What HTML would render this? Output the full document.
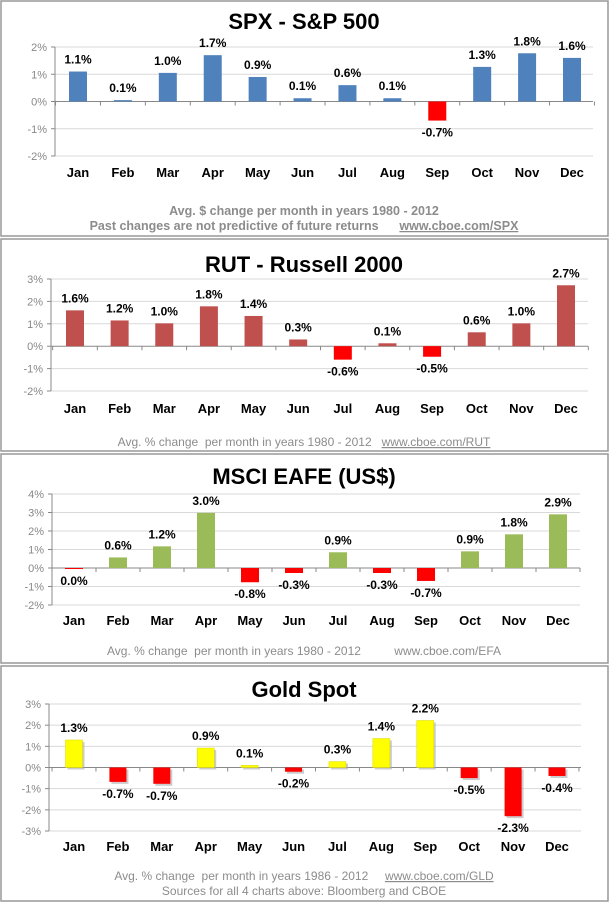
<!DOCTYPE html>
<html><head><meta charset="utf-8"><style>
html,body{margin:0;padding:0;background:#fff;width:609px;height:903px;overflow:hidden}
svg{display:block;font-family:"Liberation Sans",Arial,sans-serif}
</style></head><body>
<svg id="s" width="609" height="903" viewBox="0 0 609 903" xmlns="http://www.w3.org/2000/svg"></svg>
<script>
const M=["Jan","Feb","Mar","Apr","May","Jun","Jul","Aug","Sep","Oct","Nov","Dec"];
const P=[
{top:0,bot:236,title:"SPX - S&P 500",ty:29,l:55,r:593,maxv:2,minv:-2,ymax:47,ymin:156,c0:78,c1:572,bw:18,lab:172,fb:1,
 vals:[1.1,0.05,1.05,1.7,0.9,0.12,0.6,0.12,-0.7,1.27,1.77,1.6],txt:["1.1%","0.1%","1.0%","1.7%","0.9%","0.1%","0.6%","0.1%","-0.7%","1.3%","1.8%","1.6%"],
 col:"#4f81bd",foot:[[211,"Avg. $ change per month in years 1980 - 2012",null],[226,"Past changes are not predictive of future returns      ","www.cboe.com/SPX"]]},
{top:238,bot:451,title:"RUT - Russell 2000",ty:272,l:51,r:588,maxv:3,minv:-2,ymax:279,ymin:391,c0:75,c1:566,bw:18,lab:408,
 vals:[1.6,1.15,1.02,1.78,1.35,0.3,-0.6,0.13,-0.47,0.62,1.02,2.72],txt:["1.6%","1.2%","1.0%","1.8%","1.4%","0.3%","-0.6%","0.1%","-0.5%","0.6%","1.0%","2.7%"],
 col:"#c0504d",foot:[[442,"Avg. % change  per month in years 1980 - 2012   ","www.cboe.com/RUT"]]},
{top:453,bot:663,title:"MSCI EAFE (US$)",ty:484,l:52,r:580,maxv:4,minv:-2,ymax:494,ymin:605,c0:74,c1:558,bw:18,lab:620,
 vals:[-0.05,0.57,1.17,2.98,-0.77,-0.27,0.85,-0.27,-0.7,0.9,1.82,2.9],txt:["0.0%","0.6%","1.2%","3.0%","-0.8%","-0.3%","0.9%","-0.3%","-0.7%","0.9%","1.8%","2.9%"],
 col:"#9bbb59",foot:[[651,"Avg. % change  per month in years 1980 - 2012          www.cboe.com/EFA",null]]},
{top:665,bot:901,title:"Gold Spot",ty:697,l:49,r:581,maxv:3,minv:-3,ymax:704,ymin:831,c0:74,c1:557,bw:17,lab:846,gold:1,
 vals:[1.3,-0.68,-0.77,0.92,0.1,-0.2,0.28,1.37,2.22,-0.5,-2.3,-0.4],txt:["1.3%","-0.7%","-0.7%","0.9%","0.1%","-0.2%","0.3%","1.4%","2.2%","-0.5%","-2.3%","-0.4%"],
 col:"#ffff00",foot:[[876,"Avg. % change  per month in years 1986 - 2012     ","www.cboe.com/GLD"],[891,"Sources for all 4 charts above: Bloomberg and CBOE",null]]}
];
let h='<rect x="0" y="0" width="609" height="903" fill="#fff"/>';
for(const p of P){
 h+=`<rect x="1" y="${p.top+1}" width="607" height="${p.bot-p.top-1}" fill="none" stroke="#999" stroke-width="1.5"/>`;
 h+=`<text x="304" y="${p.ty}" text-anchor="middle" font-size="22" font-weight="bold" fill="#000">${p.title.replace('&','&amp;')}</text>`;
 const step=(p.ymin-p.ymax)/(p.maxv-p.minv);
 const Y=v=>p.ymax+(p.maxv-v)*step;
 for(let v=p.maxv;v>=p.minv;v--){
  const y=Y(v);
  if(v!==0)h+=`<line x1="${p.l}" x2="${p.r}" y1="${y}" y2="${y}" stroke="#d9d9d9"/>`;
  h+=`<line x1="${p.l-4}" x2="${p.l}" y1="${y}" y2="${y}" stroke="#888"/>`;
  h+=`<text x="${p.l-8}" y="${y+4}" text-anchor="end" font-size="11" fill="#888">${v}%</text>`;
 }
 h+=`<line x1="${p.l}" x2="${p.l}" y1="${p.ymax}" y2="${p.ymin}" stroke="#888"/>`;
 const sp=(p.c1-p.c0)/11, y0=Y(0);
 h+=`<line x1="${p.l}" x2="${p.r}" y1="${y0}" y2="${y0}" stroke="#888"/>`;
 for(let i=0;i<=12;i++){const x=p.c0-sp/2+i*sp;h+=`<line x1="${x}" x2="${x}" y1="${y0}" y2="${y0+4}" stroke="#888"/>`;}
 p.vals.forEach((v,i)=>{
  const cx=p.c0+i*sp, yv=Y(v), y=Math.min(yv,y0), hh=Math.abs(yv-y0);
  const c=v<0?"#ff0000":p.col;
  if(p.gold)h+=`<rect x="${cx-p.bw/2+2}" y="${y+2}" width="${p.bw}" height="${hh}" fill="#aaa" opacity="0.6"/>`;
  h+=`<rect x="${cx-p.bw/2}" y="${y}" width="${p.bw}" height="${Math.max(hh,1)}" fill="${c}" ${p.gold&&v>0?'stroke="#d8d800" stroke-width="0.5"':''}/>`;
  const ty=v<0?yv+16:yv-8;
  h+=`<text x="${cx}" y="${ty}" text-anchor="middle" font-size="12" font-weight="bold" fill="#000">${p.txt[i]}</text>`;
  h+=`<text x="${cx}" y="${p.lab+5}" text-anchor="middle" font-size="13" font-weight="bold" fill="#000">${M[i]}</text>`;
 });
 for(const f of p.foot){
  h+=`<text x="304" y="${f[0]+4}" text-anchor="middle" font-size="${p.fb?12.5:12}" ${p.fb?'font-weight="bold"':''} fill="#8c8c8c" xml:space="preserve">${f[1]}${f[2]?`<tspan text-decoration="underline">${f[2]}</tspan>`:''}</text>`;
 }
}
document.getElementById('s').innerHTML=h;
</script>
</body></html>
